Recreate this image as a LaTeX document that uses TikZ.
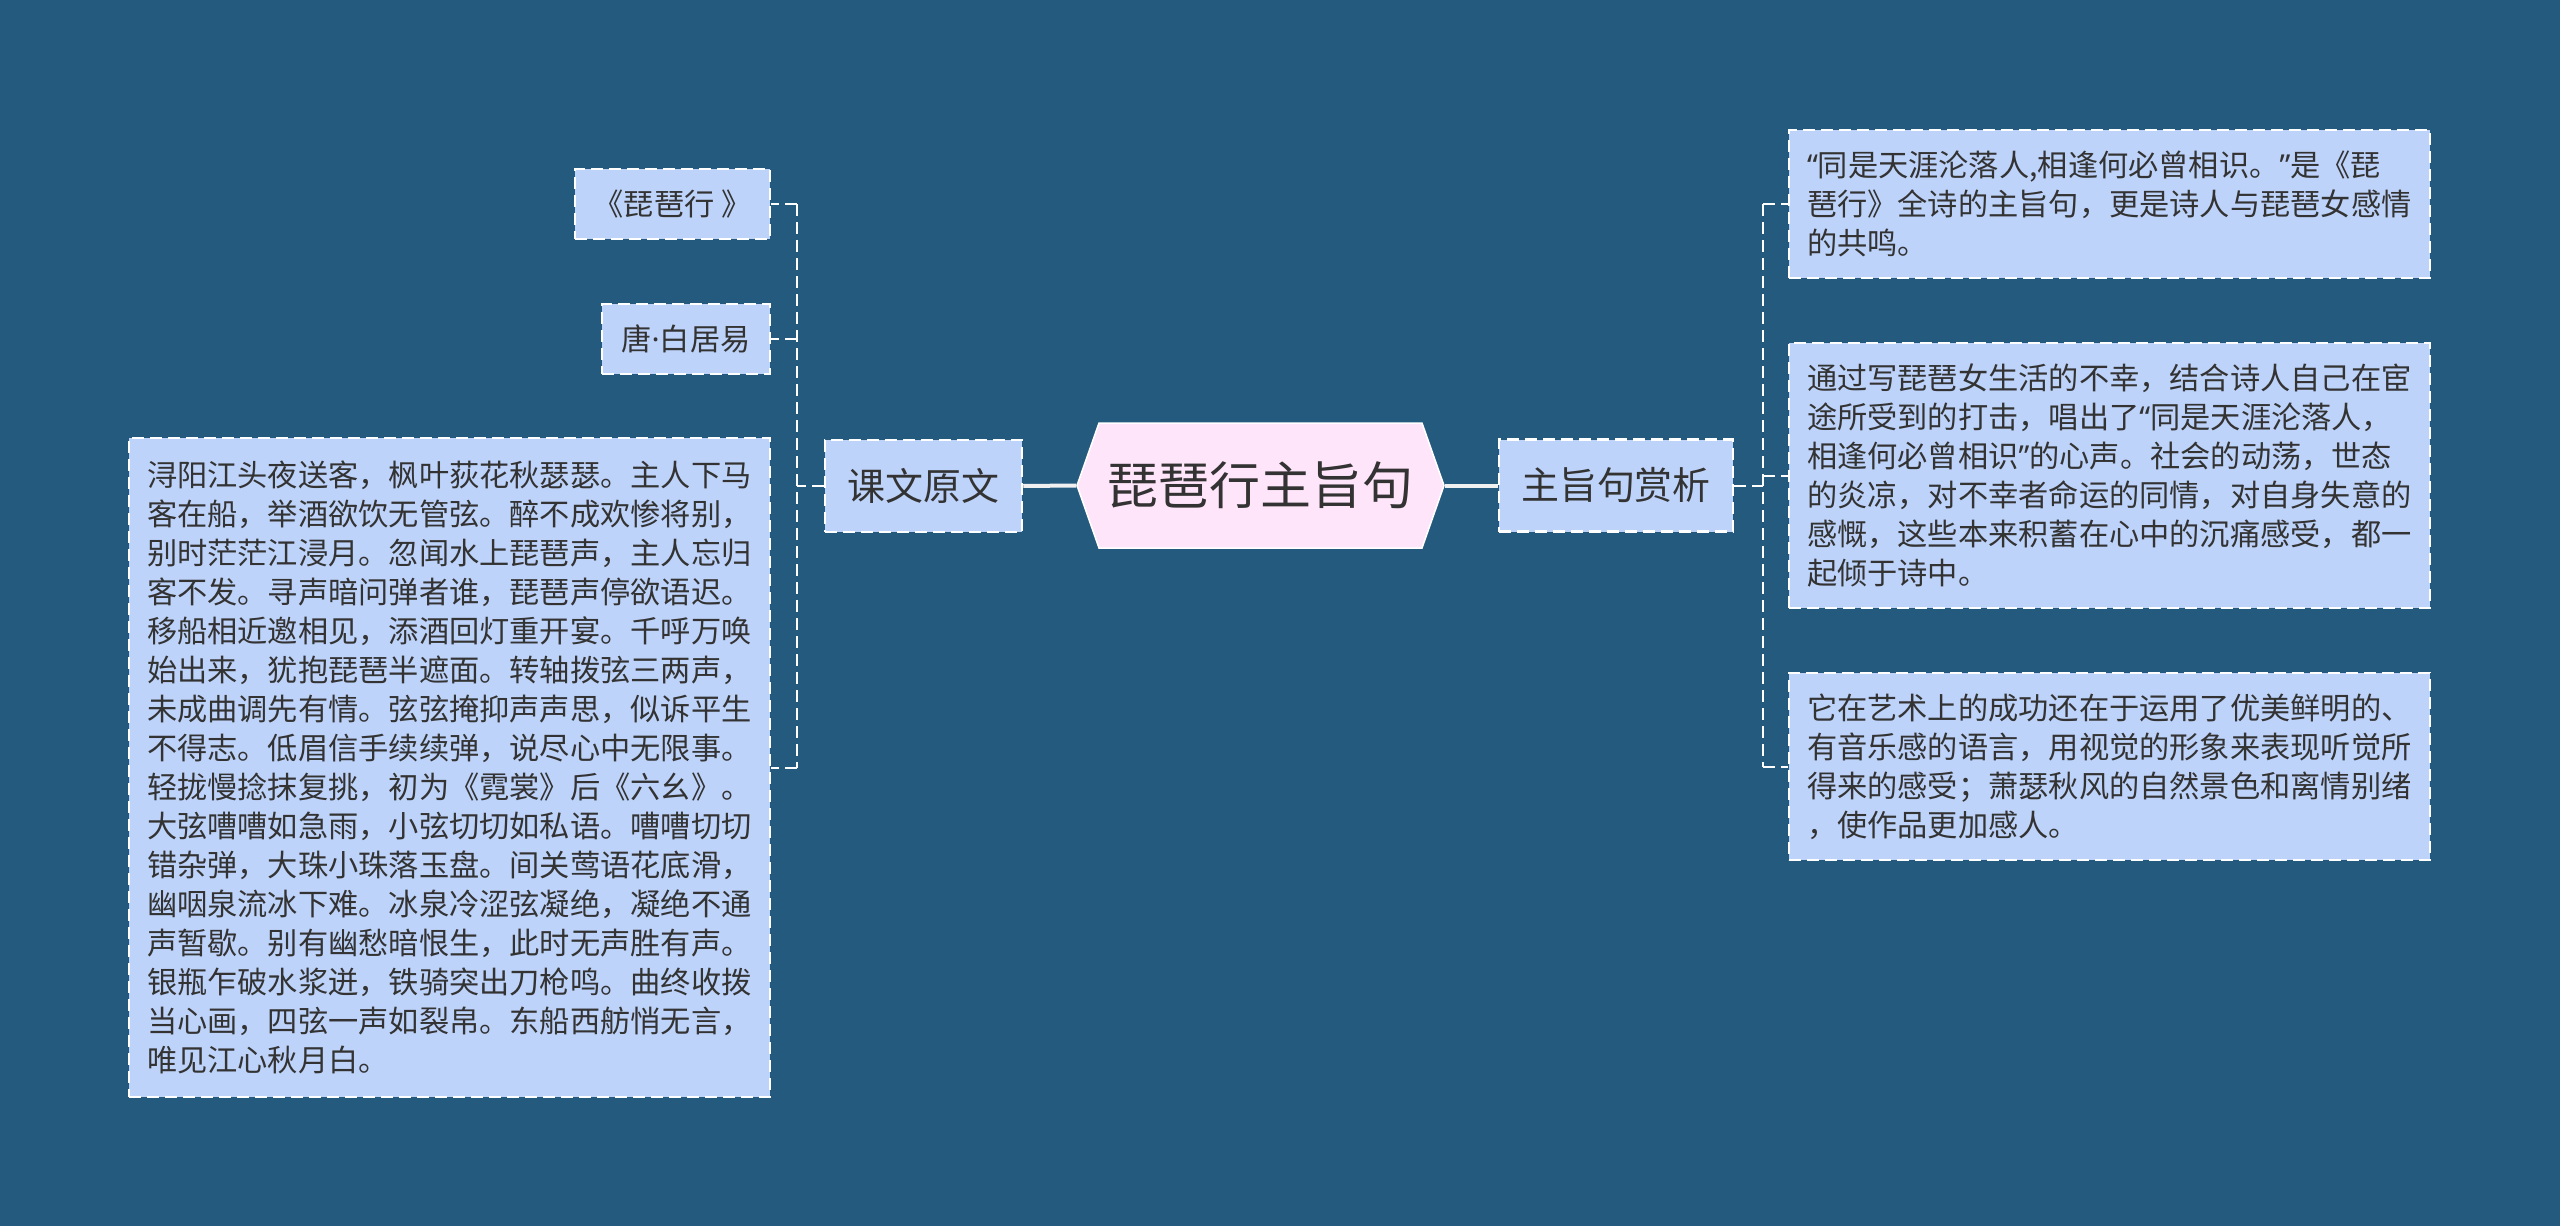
\documentclass[tikz,border=0pt]{standalone}
\usepackage{fontspec}
\setmainfont{Noto Sans CJK SC}
\newfontfamily\westfont{Noto Sans}
\usepackage{xcolor}
\usetikzlibrary{positioning}

\definecolor{bgblue}{HTML}{245A7E}
\definecolor{boxblue}{HTML}{BED3FA}
\definecolor{rootpink}{HTML}{FFE5FA}
\definecolor{inkgray}{HTML}{333333}

% narrow western quotes and dot
\newcommand{\qlft}{{\westfont “}}
\newcommand{\qrgt}{{\westfont ”}}
\newcommand{\mdot}{{\westfont ·}}

\begin{document}
\begin{tikzpicture}[x=0.1mm, y=-0.1mm,
  leaf/.style={draw=white, line width=0.25mm, dash pattern=on 1.2mm off 0.6mm,
    fill=boxblue, text=inkgray, inner sep=0pt,
    font=\fontsize{8.6pt}{11.1pt}\selectfont},
  para/.style={leaf, align=left, text width=60.5mm, minimum width=64.1mm, inner xsep=1.8mm},
  branch/.style={leaf, minimum height=9.2mm, font=\fontsize{10.8pt}{13pt}\selectfont},
  link/.style={draw=white, line width=0.2mm, dash pattern=on 1.2mm off 0.6mm},
  trunk/.style={draw=white!94!black, line width=0.4mm}
]

% ========== background ==========
\fill[bgblue] (0,0) rectangle (2560,1226);

% ========== centre: 琵琶行主旨句 ==========
\filldraw[fill=rootpink, draw=white, line width=0.15mm]
  (1077,485.5) -- (1099,423) -- (1422,423) -- (1444,485.5) -- (1422,548) -- (1099,548) -- cycle;
\node[text=inkgray, minimum width=36.7mm, minimum height=12.5mm, inner sep=0pt,
  font=\fontsize{14.5pt}{17pt}\selectfont] (root) at (1260.5,485.5) {琵琶行主旨句};

% ========== left: 课文原文 ==========
\node[branch, minimum width=19.7mm] (yuanwen) at (923.5,486) {课文原文};

\node[leaf, minimum width=19.5mm, minimum height=7mm] (title) at (672.5,204) {《琵琶行 》};
\node[leaf, minimum width=16.8mm, minimum height=7mm] (author) at (686,339) {唐\mdot 白居易};
\node[para, minimum height=65.9mm] (poem) at (449.5,767.5) {%
浔阳江头夜送客，枫叶荻花秋瑟瑟。主人下马\\
客在船，举酒欲饮无管弦。醉不成欢惨将别，\\
别时茫茫江浸月。忽闻水上琵琶声，主人忘归\\
客不发。寻声暗问弹者谁，琵琶声停欲语迟。\\
移船相近邀相见，添酒回灯重开宴。千呼万唤\\
始出来，犹抱琵琶半遮面。转轴拨弦三两声，\\
未成曲调先有情。弦弦掩抑声声思，似诉平生\\
不得志。低眉信手续续弹，说尽心中无限事。\\
轻拢慢捻抹复挑，初为《霓裳》后《六幺》。\\
大弦嘈嘈如急雨，小弦切切如私语。嘈嘈切切\\
错杂弹，大珠小珠落玉盘。间关莺语花底滑，\\
幽咽泉流冰下难。冰泉冷涩弦凝绝，凝绝不通\\
声暂歇。别有幽愁暗恨生，此时无声胜有声。\\
银瓶乍破水浆迸，铁骑突出刀枪鸣。曲终收拨\\
当心画，四弦一声如裂帛。东船西舫悄无言，\\
唯见江心秋月白。};

% ========== right: 主旨句赏析 ==========
\node[branch, minimum width=23.4mm] (shangxi) at (1616,485.5) {主旨句赏析};

\node[para, minimum height=14.8mm] (note1) at (2109.5,204) {%
\qlft 同是天涯沦落人,相逢何必曾相识。\qrgt 是《琵\\
琶行》全诗的主旨句，更是诗人与琵琶女感情\\
的共鸣。};
\node[para, minimum height=26.5mm] (note2) at (2109.5,475.5) {%
通过写琵琶女生活的不幸，结合诗人自己在宦\\
途所受到的打击，唱出了\qlft 同是天涯沦落人，\\
相逢何必曾相识\qrgt 的心声。社会的动荡，世态\\
的炎凉，对不幸者命运的同情，对自身失意的\\
感慨，这些本来积蓄在心中的沉痛感受，都一\\
起倾于诗中。};
\node[para, minimum height=18.7mm] (note3) at (2109.5,766.5) {%
它在艺术上的成功还在于运用了优美鲜明的、\\
有音乐感的语言，用视觉的形象来表现听觉所\\
得来的感受；萧瑟秋风的自然景色和离情别绪\\
，使作品更加感人。};

% ========== connectors ==========
\draw[trunk] (root.west) -- (yuanwen.east);
\draw[trunk] (root.east) -- (shangxi.west);

\coordinate (lspine) at (797,486);
\draw[link] (yuanwen.west) -- (lspine);
\draw[link] (lspine |- title.east) -- (lspine |- poem.east);
\foreach \leafname in {title, author, poem}
  \draw[link] (lspine |- \leafname.east) -- (\leafname.east);

\coordinate (rspine) at (1763,485.5);
\draw[link] (shangxi.east) -- (rspine);
\draw[link] (rspine |- note1.west) -- (rspine |- note3.west);
\foreach \leafname in {note1, note2, note3}
  \draw[link] (rspine |- \leafname.west) -- (\leafname.west);

\end{tikzpicture}
\end{document}
